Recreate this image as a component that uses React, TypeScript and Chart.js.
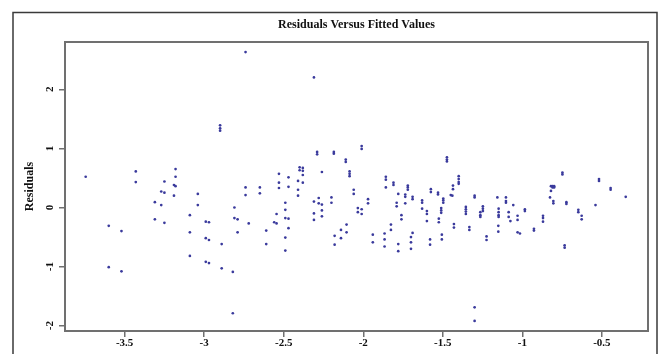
import React, { useEffect, useRef } from "react";
import { Chart, registerables } from "chart.js";

Chart.register(...registerables);

const chartTitle = "Residuals Versus Fitted Values";
const yAxisTitle = "Residuals";
const xTicks = [-3.5, -3, -2.5, -2, -1.5, -1, -0.5];
const yTicks = [-2, -1, 0, 1, 2];

const fitted = [
  -3.745, -3.43, -3.43, -3.25, -3.18, -3.18, -3.19, -3.18, -3.27, -3.25,
  -3.19, -3.04, -3.31, -3.27, -3.04, -3.09, -3.31, -3.25, -2.99, -2.97,
  -3.6, -3.52, -3.09, -2.99, -2.97, -3.09, -2.99, -2.97, -3.6, -3.52,
  -2.74, -2.31, -2.9, -2.9, -2.9, -2.29, -2.29, -2.185, -2.185, -2.11,
  -2.11, -2.4, -2.38, -2.4, -2.38, -2.38, -2.26, -2.53, -2.47, -2.53,
  -2.41, -2.38, -2.47, -2.74, -2.65, -2.53, -2.41, -2.74, -2.65, -2.41,
  -2.31, -2.28, -2.28, -2.26, -2.2, -2.2, -2.49, -2.81, -2.49, -2.31,
  -2.26, -2.26, -2.31, -2.545, -2.81, -2.79, -2.72, -2.56, -2.545, -2.49,
  -2.47, -2.47, -2.61, -2.79, -2.89, -2.49, -2.61, -2.49, -2.89, -2.82,
  -2.82, -2.105, -2.14, -2.105, -2.18, -2.14, -2.18,
  -2.01, -2.01, -2.086, -2.086, -2.086, -1.474, -1.474, -1.474, -1.858, -1.858,
  -1.81, -1.81, -1.858, -1.72, -1.72, -1.72, -1.4, -1.4, -1.4, -1.4,
  -1.436, -1.436, -1.575, -2.06, -1.575, -1.53, -1.53, -1.497, -1.497, -1.497,
  -1.45, -1.44, -1.3, -1.3, -2.06, -1.97, -1.97, -2.034, -2.034, -2.01,
  -2.01, -1.78, -1.736, -1.736, -1.69, -1.69, -1.79, -1.79, -1.736, -1.63,
  -1.63, -1.63, -1.6, -1.6, -1.6, -1.51, -1.51, -1.51, -1.525, -1.525,
  -1.76, -1.76, -1.826, -1.826, -1.94, -1.94, -1.866, -1.866, -1.866, -1.78,
  -1.78, -1.69, -1.7, -1.7, -1.7, -1.58, -1.58, -1.506, -1.506, -1.43,
  -1.43, -1.355, -1.355, -1.355, -1.355, -1.333, -1.333, -1.248, -1.248, -1.248,
  -1.264, -1.264, -1.264, -1.225, -1.225, -1.3, -1.3,
  -0.748, -0.748, -0.518, -0.518, -0.82, -0.81, -0.8, -0.81, -0.8, -0.445,
  -0.445, -0.82, -0.826, -0.805, -0.805, -0.723, -0.723, -0.35, -0.54, -0.648,
  -0.648, -0.627, -0.627, -0.734, -0.734, -0.87, -0.87, -0.87, -0.927, -0.927,
  -0.984, -0.984, -1.03, -1.03, -1.03, -1.015, -1.057, -1.086, -1.086, -1.075,
  -1.103, -1.103, -1.103, -1.157, -1.149, -1.149, -1.149, -1.149, -1.151, -1.151,
];

const residuals = [
  0.52, 0.61, 0.43, 0.44, 0.65, 0.52, 0.38, 0.36, 0.27, 0.25,
  0.2, 0.23, 0.09, 0.04, 0.04, -0.13, -0.2, -0.26, -0.24, -0.25,
  -0.31, -0.4, -0.42, -0.52, -0.55, -0.82, -0.92, -0.94, -1.01, -1.08,
  2.63, 2.2, 1.39, 1.34, 1.3, 0.94, 0.9, 0.94, 0.91, 0.81,
  0.77, 0.68, 0.67, 0.63, 0.62, 0.55, 0.6, 0.57, 0.51, 0.42,
  0.45, 0.42, 0.35, 0.34, 0.34, 0.33, 0.3, 0.21, 0.24, 0.2,
  0.1, 0.16, 0.07, 0.05, 0.17, 0.08, 0.08, 0.0, -0.04, -0.1,
  -0.05, -0.15, -0.21, -0.11, -0.18, -0.2, -0.27, -0.25, -0.27, -0.18,
  -0.19, -0.35, -0.39, -0.42, -0.62, -0.51, -0.62, -0.73, -1.03, -1.09,
  -1.79, -0.29, -0.38, -0.42, -0.48, -0.52, -0.63,
  1.04, 0.99, 0.61, 0.57, 0.53, 0.85, 0.81, 0.78, 0.52, 0.47,
  0.42, 0.38, 0.34, 0.37, 0.34, 0.3, 0.53, 0.48, 0.43, 0.4,
  0.37, 0.31, 0.31, 0.3, 0.26, 0.25, 0.22, 0.15, 0.12, 0.08,
  0.21, 0.2, 0.2, 0.17, 0.23, 0.14, 0.07, -0.01, -0.08, -0.03,
  -0.11, 0.23, 0.22, 0.18, 0.18, 0.14, 0.08, 0.02, 0.07, 0.12,
  0.08, -0.02, -0.06, -0.11, -0.23, -0.01, -0.05, -0.09, -0.19, -0.25,
  -0.13, -0.2, -0.29, -0.38, -0.46, -0.59, -0.44, -0.54, -0.66, -0.62,
  -0.74, -0.43, -0.5, -0.59, -0.7, -0.54, -0.63, -0.46, -0.54, -0.28,
  -0.34, 0.01, -0.03, -0.07, -0.11, -0.33, -0.38, 0.02, -0.02, -0.06,
  -0.08, -0.13, -0.16, -0.49, -0.55, -1.69, -1.92,
  0.59, 0.56, 0.48, 0.45, 0.36, 0.36, 0.36, 0.34, 0.34, 0.33,
  0.3, 0.28, 0.17, 0.11, 0.07, 0.09, 0.06, 0.18, 0.04, -0.04,
  -0.08, -0.14, -0.2, -0.64, -0.68, -0.14, -0.18, -0.24, -0.36, -0.39,
  -0.03, -0.06, -0.14, -0.21, -0.42, -0.44, 0.04, -0.08, -0.16, -0.23,
  0.17, 0.11, 0.08, 0.17, -0.02, -0.08, -0.13, -0.16, -0.31, -0.41,
];

const W = 659;
const H = 354;
const FONT = '"Liberation Serif", "Times New Roman", serif';

export default function App() {
  const ref = useRef<HTMLCanvasElement>(null);

  useEffect(() => {
    const canvas = ref.current;
    if (!canvas) return;

    const deco = {
      id: "deco",
      beforeDraw(chart: any) {
        const { ctx } = chart;
        ctx.save();
        ctx.fillStyle = "#ffffff";
        ctx.fillRect(0, 0, W, H);
        ctx.restore();
      },
      afterDraw(chart: any) {
        const { ctx, chartArea: a } = chart;
        ctx.save();
        // outer frame
        ctx.strokeStyle = "#3a3a3a";
        ctx.lineWidth = 1.5;
        ctx.beginPath();
        ctx.moveTo(13, H + 5);
        ctx.lineTo(13, 12.5);
        ctx.lineTo(657, 12.5);
        ctx.lineTo(657, H + 5);
        ctx.stroke();
        // plot box
        ctx.strokeStyle = "#707070";
        ctx.lineWidth = 2;
        ctx.strokeRect(a.left, a.top, a.right - a.left, a.bottom - a.top);
        // title
        ctx.fillStyle = "#111111";
        ctx.textAlign = "center";
        ctx.textBaseline = "middle";
        ctx.font = `bold 12px ${FONT}`;
        ctx.fillText(chartTitle, (a.left + a.right) / 2, 25);
        // y axis title
        ctx.save();
        ctx.translate(29.5, (a.top + a.bottom) / 2);
        ctx.rotate(-Math.PI / 2);
        ctx.fillText(yAxisTitle, 0, 0);
        ctx.restore();
        // y tick labels (rotated, as in R)
        ctx.font = `bold 11px ${FONT}`;
        const ys = chart.scales.y;
        for (const v of yTicks) {
          ctx.save();
          ctx.translate(50.5, ys.getPixelForValue(v));
          ctx.rotate(-Math.PI / 2);
          ctx.fillText(String(v), 0, 0);
          ctx.restore();
        }
        ctx.restore();
      },
    };

    const chart = new Chart(canvas, {
      type: "scatter",
      data: {
        datasets: [
          {
            data: fitted.map((x, i) => ({ x, y: residuals[i] })),
            pointRadius: 1.35,
            pointHoverRadius: 1.35,
            pointBackgroundColor: "#3a3a9c",
            pointBorderWidth: 0,
            showLine: false,
          },
        ],
      },
      options: {
        responsive: false,
        animation: false,
        devicePixelRatio: 1,
        layout: { padding: { top: 42, right: 11, left: 0, bottom: 0 } },
        plugins: {
          legend: { display: false },
          tooltip: { enabled: false },
          title: { display: false },
        },
        scales: {
          x: {
            type: "linear",
            min: -3.875,
            max: -0.21,
            afterBuildTicks: (s: any) => {
              s.ticks = xTicks.map((v) => ({ value: v }));
            },
            afterFit: (s: any) => {
              s.height = 23;
            },
            grid: {
              drawOnChartArea: false,
              drawTicks: true,
              tickLength: 6,
              color: "#707070",
              lineWidth: 1.5,
            },
            border: { display: false },
            ticks: {
              padding: 0,
              color: "#111111",
              autoSkip: false,
              maxRotation: 0,
              font: { family: FONT, size: 11, weight: "bold" },
              callback: (v: any) => String(v),
            },
          },
          y: {
            type: "linear",
            min: -2.09,
            max: 2.8,
            afterBuildTicks: (s: any) => {
              s.ticks = yTicks.map((v) => ({ value: v }));
            },
            afterFit: (s: any) => {
              s.width = 65;
            },
            grid: {
              drawOnChartArea: false,
              drawTicks: true,
              tickLength: 6,
              color: "#707070",
              lineWidth: 1.5,
            },
            border: { display: false },
            ticks: { display: false },
          },
        },
      },
      plugins: [deco],
    } as any);

    return () => chart.destroy();
  }, []);

  return (
    <div style={{ position: "absolute", left: 0, top: 0, width: W, height: H, background: "#fff" }}>
      <canvas ref={ref} width={W} height={H} style={{ display: "block", width: W, height: H }} />
    </div>
  );
}
